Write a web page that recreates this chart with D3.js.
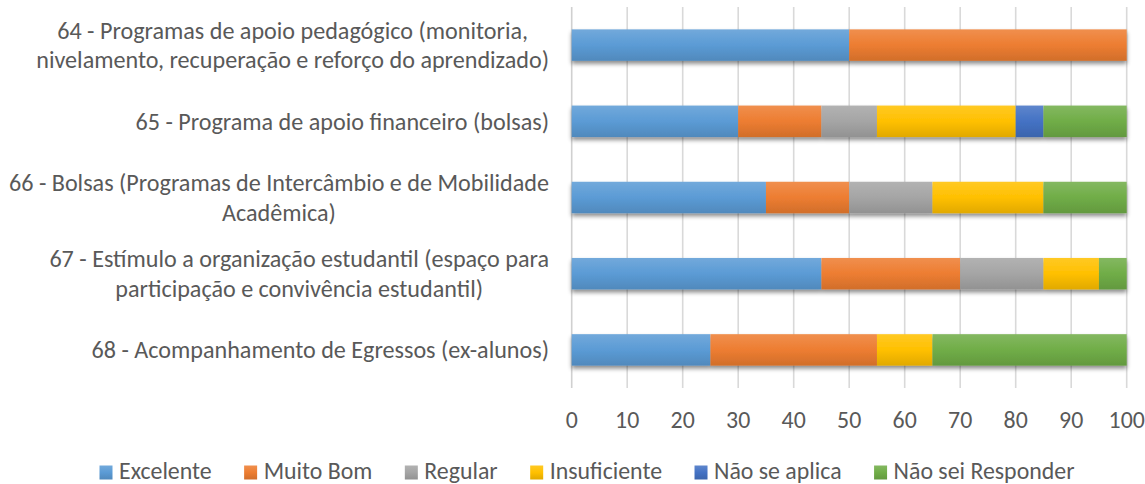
<!DOCTYPE html>
<html>
<head>
<meta charset="utf-8">
<script src="https://cdn.jsdelivr.net/npm/d3@7"></script>
<style>
  html, body { margin: 0; padding: 0; background: #fff; }
  svg { display: block; }
  text { font-family: Carlito, Lato, "Open Sans", sans-serif; fill: #595959; }
</style>
</head>
<body>
<svg id="chart" width="1145" height="484"></svg>
<script>
// ---- data ----
const categories = [
  ["64 - Programas de apoio pedagógico (monitoria,", "nivelamento, recuperação e reforço do aprendizado)"],
  ["65 - Programa de apoio financeiro (bolsas)"],
  ["66 - Bolsas (Programas de Intercâmbio e de Mobilidade", "Acadêmica)"],
  ["67 - Estímulo a organização estudantil (espaço para", "participação e convivência estudantil)"],
  ["68 - Acompanhamento de Egressos (ex-alunos)"]
];
const seriesNames = ["Excelente", "Muito Bom", "Regular", "Insuficiente", "Não se aplica", "Não sei Responder"];
const excelente    = [50, 30, 35, 45, 25];
const muitoBom     = [50, 15, 15, 25, 30];
const regular      = [0, 10, 15, 15, 0];
const insuficiente = [0, 25, 20, 10, 10];
const naoSeAplica  = [0, 5, 0, 0, 0];
const naoSei       = [0, 15, 15, 5, 35];
const xTicks = [0, 10, 20, 30, 40, 50, 60, 70, 80, 90, 100];

const seriesValues = [excelente, muitoBom, regular, insuficiente, naoSeAplica, naoSei];
const colors = ["#5B9BD5", "#ED7D31", "#A5A5A5", "#FFC000", "#4472C4", "#70AD47"];

const svg = d3.select("#chart");
const rows = categories.map((c, i) => {
  const o = { idx: i };
  seriesNames.forEach((s, j) => o[s] = seriesValues[j][i]);
  return o;
});

const x = d3.scaleLinear().domain([0, 100]).range([571.7, 1126.7]);
const y = d3.scaleBand().domain(d3.range(categories.length)).range([7, 388])
  .paddingInner(0.587).paddingOuter(0.2935);

// defs: gradients + shadow
const defs = svg.append("defs");
colors.forEach((c, i) => {
  const g = defs.append("linearGradient").attr("id", "g" + i)
    .attr("x1", 0).attr("y1", 0).attr("x2", 0).attr("y2", 1);
  const base = d3.color(c);
  g.append("stop").attr("offset", "0%").attr("stop-color", d3.interpolateRgb(c, "#fff")(0.14));
  g.append("stop").attr("offset", "50%").attr("stop-color", c);
  g.append("stop").attr("offset", "100%").attr("stop-color", base.darker(0.35));
});
const f = defs.append("filter").attr("id", "shadow")
  .attr("x", "-5%").attr("y", "-30%").attr("width", "110%").attr("height", "170%");
f.append("feDropShadow").attr("dx", 0).attr("dy", 3).attr("stdDeviation", 2.2)
  .attr("flood-color", "#000").attr("flood-opacity", 0.45);

// gridlines
svg.append("g").selectAll("line").data(xTicks).join("line")
  .attr("x1", d => x(d)).attr("x2", d => x(d))
  .attr("y1", 7).attr("y2", 388)
  .attr("stroke", d => d === 0 ? "#D0D0D0" : "#D9D9D9").attr("stroke-width", 1.6);

// bars
const stack = d3.stack().keys(seriesNames)(rows);
const rowG = svg.append("g").selectAll("g.row").data(rows).join("g")
  .attr("class", "row").attr("filter", "url(#shadow)");
rowG.each(function(r, ri) {
  const g = d3.select(this);
  stack.forEach((s, si) => {
    const d = s[ri];
    if (d[1] - d[0] <= 0) return;
    g.append("rect")
      .attr("x", x(d[0])).attr("width", x(d[1]) - x(d[0]))
      .attr("y", y(ri)).attr("height", y.bandwidth())
      .attr("fill", `url(#g${si})`);
  });
});

// helper to fit font-size to a target width
function fitSize(str, target, base) {
  const t = svg.append("text").style("font-size", base + "px").text(str);
  const w = t.node().getComputedTextLength();
  t.remove();
  return base * target / w;
}

// category labels (block right-aligned at 549, lines centered within block)
const labelSize = fitSize(categories[0][1], 513, 22);
const lineH = 29.5;
const labels = svg.append("g");
categories.forEach((lines, i) => {
  const cy = y(i) + y.bandwidth() / 2;
  const n = lines.length;
  const nodes = lines.map((ln, k) => labels.append("text")
    .attr("y", cy + 8.3 + (k - (n - 1) / 2) * lineH)
    .attr("text-anchor", "middle")
    .style("font-size", labelSize + "px")
    .text(ln).node());
  const maxW = d3.max(nodes, nd => nd.getComputedTextLength());
  nodes.forEach(nd => d3.select(nd).attr("x", 549 - maxW / 2));
});

// x tick labels
const tickSize = fitSize("Não sei Responder", 181, 22);
svg.append("g").selectAll("text").data(xTicks).join("text")
  .attr("x", d => x(d)).attr("y", 428)
  .attr("text-anchor", "middle")
  .style("font-size", tickSize + "px")
  .text(d => d);

// legend
const legend = svg.append("g");
let lx = 99.5;
seriesNames.forEach((s, i) => {
  legend.append("rect").attr("x", lx).attr("y", 465.5).attr("width", 13).attr("height", 14)
    .attr("fill", `url(#g${i})`);
  const t = legend.append("text").attr("x", lx + 19.5).attr("y", 479)
    .style("font-size", tickSize + "px").text(s);
  lx += 19.5 + t.node().getComputedTextLength() + 32.5;
});
</script>
</body>
</html>
